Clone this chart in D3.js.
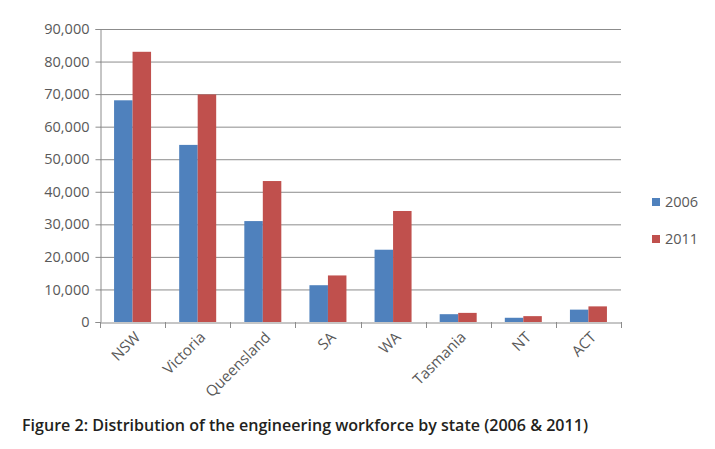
<!DOCTYPE html>
<html><head><meta charset="utf-8">
<script src="https://cdn.jsdelivr.net/npm/d3@7"></script>
<style>body{margin:0;background:#fff;}svg{display:block;}</style>
</head><body>
<script>
const categories = ["NSW","Victoria","Queensland","SA","WA","Tasmania","NT","ACT"];
const seriesNames = ["2006","2011"];
const values2006 = [68100,54400,31000,11300,22200,2400,1300,3800];
const values2011 = [83000,69900,43300,14300,34100,2800,1800,4800];
const yTicks = [0,10000,20000,30000,40000,50000,60000,70000,80000,90000];
const colors = ["#4F81BD","#C0504D"];
const title = "Figure 2: Distribution of the engineering workforce by state (2006 & 2011)";

(function(){
const W = 715, H = 449;
const svg = d3.select("body").append("svg").attr("width", W).attr("height", H);
const mLeft = 100, mRight = 621, mTop = 29, mBottom = 322;
const font = "'Open Sans', sans-serif";

const x = d3.scaleBand().domain(categories).range([mLeft, mRight]).paddingInner(0).paddingOuter(0);
const y = d3.scaleLinear().domain([0, 90000]).range([mBottom, mTop]);
const inner = d3.scaleBand().domain(seriesNames).range([0, x.bandwidth()]).paddingInner(0).paddingOuter(0.76);

// gridlines
svg.append("g").selectAll("line").data(yTicks.filter(d => d > 0)).join("line")
  .attr("x1", mLeft).attr("x2", mRight)
  .attr("y1", d => y(d) + 0.5).attr("y2", d => y(d) + 0.5)
  .attr("stroke", "#8c8c8c").attr("stroke-width", 1);

// bars
const data = categories.map((c, i) => ({c, vals: [values2006[i], values2011[i]]}));
const g = svg.append("g").selectAll("g").data(data).join("g")
  .attr("transform", d => `translate(${x(d.c)},0)`);
g.selectAll("rect").data(d => d.vals.map((v, j) => ({v, s: seriesNames[j], j}))).join("rect")
  .attr("x", d => inner(d.s)).attr("width", inner.bandwidth())
  .attr("y", d => y(d.v)).attr("height", d => mBottom - y(d.v))
  .attr("fill", d => colors[d.j]);

// y axis
const yAxis = svg.append("g").attr("transform", `translate(${mLeft + 0.5},0)`)
  .call(d3.axisLeft(y).tickValues(yTicks).tickSize(5).tickPadding(6).tickFormat(d3.format(",")));
yAxis.select(".domain").attr("stroke", "#8c8c8c");
yAxis.selectAll(".tick line").attr("stroke", "#8c8c8c");
yAxis.selectAll(".tick text").attr("font-family", font).attr("font-size", 14.5).attr("fill", "#595959");

// x axis
const xAxis = svg.append("g").attr("transform", `translate(0,${mBottom + 0.5})`)
  .call(d3.axisBottom(x).tickSize(0).tickPadding(0));
xAxis.select(".domain").attr("stroke", "#8c8c8c");
xAxis.selectAll(".tick text")
  .attr("font-family", font).attr("font-size", 15).attr("fill", "#595959")
  .attr("text-anchor", "end").attr("dy", "0.35em")
  .attr("transform", "translate(5,12) rotate(-45)");
// boundary ticks
svg.append("g").selectAll("line").data(categories.concat(["end"])).join("line")
  .attr("x1", (d, i) => Math.round(mLeft + i * x.bandwidth()) + 0.5)
  .attr("x2", (d, i) => Math.round(mLeft + i * x.bandwidth()) + 0.5)
  .attr("y1", mBottom).attr("y2", mBottom + 6)
  .attr("stroke", "#8c8c8c");

// legend
const lg = svg.append("g").selectAll("g").data(seriesNames).join("g")
  .attr("transform", (d, i) => `translate(652,${198 + i * 37})`);
lg.append("rect").attr("width", 8).attr("height", 8).attr("fill", (d, i) => colors[i]);
lg.append("text").attr("x", 13).attr("y", 4).attr("dy", "0.35em")
  .attr("font-family", font).attr("font-size", 14.5).attr("fill", "#595959").text(d => d);

// title
svg.append("text").attr("x", 22).attr("y", 431)
  .attr("font-family", font).attr("font-weight", 600).attr("font-size", 15.5).attr("fill", "#231f20")
  .attr("textLength", 566).attr("lengthAdjust", "spacingAndGlyphs")
  .text(title);
})();
</script>
</body></html>
